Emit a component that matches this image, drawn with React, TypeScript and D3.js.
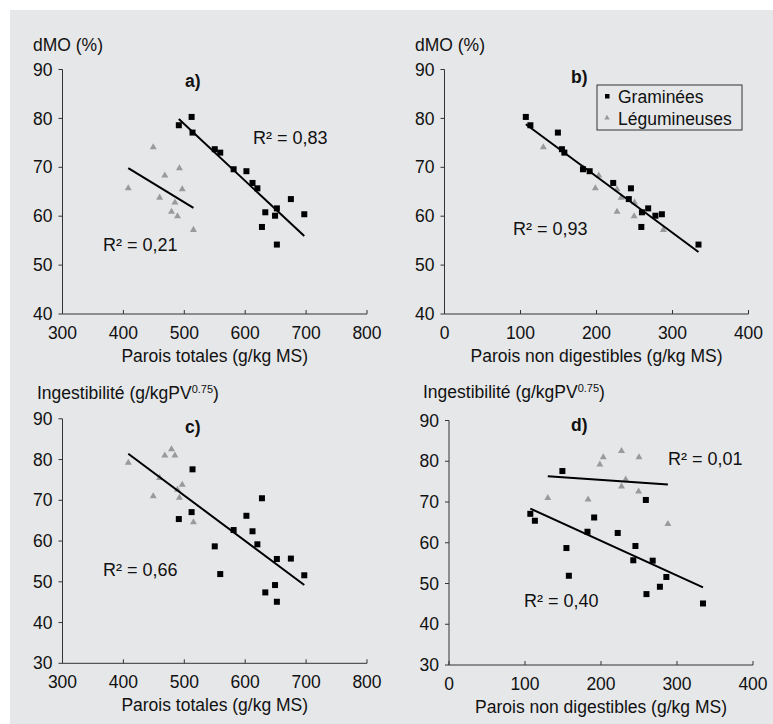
import React from "react";
import * as d3 from "d3";

// Graminées (16 fourrages)
const grassParoisTotales = [491, 512, 513.5, 550, 559, 581, 602, 612, 620, 633, 652, 649, 627.5, 652, 675, 697];
const grassParoisNonDig = [113, 107, 149.2, 154.5, 157.7, 182.2, 191, 222, 245.3, 259.8, 268, 277.5, 259, 334.2, 242.5, 286];
const grassDMO = [78.6, 80.3, 77.1, 73.7, 73.0, 69.6, 69.2, 66.8, 65.7, 60.8, 61.6, 60.1, 57.8, 54.2, 63.5, 60.4];
const grassIngest = [65.4, 67.1, 77.6, 58.7, 51.9, 62.7, 66.2, 62.4, 59.2, 47.4, 55.6, 49.2, 70.5, 45.1, 55.7, 51.6];

// Légumineuses (10 fourrages)
const legParoisTotales = [449, 408, 492, 468, 496.6, 459.5, 484.6, 479, 488.8, 515];
const legParoisNonDig = [130, 198.5, 183, 203, 227, 232.5, 250, 227, 249.5, 288];
const legDMO = [74.1, 65.7, 69.8, 68.3, 65.5, 63.8, 62.8, 60.9, 60.0, 57.2];
const legIngest = [71.0, 79.2, 70.6, 81.0, 73.8, 75.5, 81.0, 82.5, 72.6, 64.6];

const xTicksTot = [300, 400, 500, 600, 700, 800];
const xTicksND = [0, 100, 200, 300, 400];
const yTicksDMO = [40, 50, 60, 70, 80, 90];
const yTicksIng = [30, 40, 50, 60, 70, 80, 90];

const legendLabels = ["Graminées", "Légumineuses"];

type Pt = [number, number];
const zip = (xs: number[], ys: number[]): Pt[] => xs.map((x, i) => [x, ys[i]]);

// droite des moindres carrés, tracée entre min et max de x
function fit(pts: Pt[]): Pt[] {
  const mx = d3.mean(pts, (p) => p[0]) ?? 0;
  const my = d3.mean(pts, (p) => p[1]) ?? 0;
  const sxy = d3.sum(pts, (p) => (p[0] - mx) * (p[1] - my));
  const sxx = d3.sum(pts, (p) => (p[0] - mx) ** 2);
  const b = sxy / sxx;
  const a = my - b * mx;
  const [x0, x1] = d3.extent(pts, (p) => p[0]) as [number, number];
  return [
    [x0, a + b * x0],
    [x1, a + b * x1],
  ];
}

const FONT = "'Liberation Sans', Arial, Helvetica, sans-serif";
const FS = 17.5;
const AXIS = "#333";
const GREY = "#9a9a9a";
const tri = d3.symbol().type(d3.symbolTriangle).size(21)() ?? "";
const triSmall = d3.symbol().type(d3.symbolTriangle).size(13)() ?? "";

interface PanelProps {
  xDomain: [number, number];
  xRange: [number, number];
  yDomain: [number, number];
  yRange: [number, number];
  xTicks: number[];
  yTicks: number[];
  grass: Pt[];
  leg: Pt[];
  fits: Pt[][];
  letter: string;
  letterPos: [number, number];
  yTitle: React.ReactNode;
  yTitlePos: [number, number];
  xTitle: string;
  r2: { text: string; x: number; y: number }[];
}

const Panel: React.FC<PanelProps> = (p) => {
  const x = d3.scaleLinear().domain(p.xDomain).range(p.xRange);
  const y = d3.scaleLinear().domain(p.yDomain).range(p.yRange);
  const line = d3
    .line<Pt>()
    .x((d) => x(d[0]))
    .y((d) => y(d[1]));
  const y0 = y(p.yDomain[0]);
  const x0 = x(p.xDomain[0]);

  return (
    <g fontFamily={FONT} fill="#111">
      {/* Axe Y */}
      <line x1={x0} x2={x0} y1={y(p.yDomain[1])} y2={y0} stroke={AXIS} />
      {p.yTicks.map((t) => (
        <g key={t}>
          <line x1={x0 - 4} x2={x0} y1={y(t)} y2={y(t)} stroke={AXIS} />
          <text x={x0 - 10} y={y(t)} dy="0.35em" textAnchor="end" fontSize={FS}>
            {t}
          </text>
        </g>
      ))}
      {/* Axe X */}
      <line x1={x0} x2={x(p.xDomain[1])} y1={y0} y2={y0} stroke={AXIS} />
      {p.xTicks.map((t) => (
        <g key={t}>
          <line x1={x(t)} x2={x(t)} y1={y0 - 4} y2={y0} stroke={AXIS} />
          <text x={x(t)} y={y0 + 25} textAnchor="middle" fontSize={FS}>
            {t}
          </text>
        </g>
      ))}
      <text x={(p.xRange[0] + p.xRange[1]) / 2} y={y0 + 48} textAnchor="middle" fontSize={FS}>
        {p.xTitle}
      </text>
      <text x={p.yTitlePos[0]} y={p.yTitlePos[1]} fontSize={FS}>
        {p.yTitle}
      </text>
      <text x={p.letterPos[0]} y={p.letterPos[1]} fontSize={FS} fontWeight="bold">
        {p.letter}
      </text>
      {/* Points */}
      {p.leg.map((d, i) => (
        <path key={"l" + i} d={tri} transform={`translate(${x(d[0])},${y(d[1])})`} fill={GREY} />
      ))}
      {p.grass.map((d, i) => (
        <rect key={"g" + i} x={x(d[0]) - 3} y={y(d[1]) - 3} width={6} height={6} fill="#000" />
      ))}
      {/* Droites */}
      {p.fits.map((f, i) => (
        <path key={"f" + i} d={line(f) ?? ""} stroke="#000" strokeWidth={2} fill="none" />
      ))}
      {p.r2.map((r, i) => (
        <text key={"r" + i} x={r.x} y={r.y} fontSize={18}>
          {r.text}
        </text>
      ))}
    </g>
  );
};

const ingTitle = (
  <>
    <tspan>Ingestibilité (g/kgPV</tspan>
    <tspan fontSize={11} dy={-6}>
      0.75
    </tspan>
    <tspan dy={6}>)</tspan>
  </>
);

export default function App() {
  const aGrass = zip(grassParoisTotales, grassDMO);
  const aLeg = zip(legParoisTotales, legDMO);
  const bGrass = zip(grassParoisNonDig, grassDMO);
  const bLeg = zip(legParoisNonDig, legDMO);
  const cGrass = zip(grassParoisTotales, grassIngest);
  const cLeg = zip(legParoisTotales, legIngest);
  const dGrass = zip(grassParoisNonDig, grassIngest);
  const dLeg = zip(legParoisNonDig, legIngest);

  return (
    <svg width={773} height={724} style={{ position: "absolute", left: 0, top: 0 }}>
      <rect width={773} height={724} fill="#fff" />
      <rect x={10} y={10} width={763} height={714} fill="#e6e7e9" />

      <Panel
        xDomain={[300, 800]}
        xRange={[62.5, 367]}
        yDomain={[40, 90]}
        yRange={[314, 69.5]}
        xTicks={xTicksTot}
        yTicks={yTicksDMO}
        grass={aGrass}
        leg={aLeg}
        fits={[fit(aGrass), fit(aLeg)]}
        letter="a)"
        letterPos={[185, 87]}
        yTitle="dMO (%)"
        yTitlePos={[33, 51]}
        xTitle="Parois totales (g/kg MS)"
        r2={[
          { text: "R² = 0,83", x: 253, y: 144 },
          { text: "R² = 0,21", x: 103, y: 251 },
        ]}
      />
      <Panel
        xDomain={[0, 400]}
        xRange={[444.5, 748.5]}
        yDomain={[40, 90]}
        yRange={[314, 69.5]}
        xTicks={xTicksND}
        yTicks={yTicksDMO}
        grass={bGrass}
        leg={bLeg}
        fits={[fit([...bGrass, ...bLeg])]}
        letter="b)"
        letterPos={[571, 83]}
        yTitle="dMO (%)"
        yTitlePos={[415, 51]}
        xTitle="Parois non digestibles (g/kg MS)"
        r2={[{ text: "R² = 0,93", x: 513, y: 235 }]}
      />
      <Panel
        xDomain={[300, 800]}
        xRange={[62.5, 367]}
        yDomain={[30, 90]}
        yRange={[663.3, 418.8]}
        xTicks={xTicksTot}
        yTicks={yTicksIng}
        grass={cGrass}
        leg={cLeg}
        fits={[fit([...cGrass, ...cLeg])]}
        letter="c)"
        letterPos={[185, 433]}
        yTitle={ingTitle}
        yTitlePos={[37, 399]}
        xTitle="Parois totales (g/kg MS)"
        r2={[{ text: "R² = 0,66", x: 103, y: 576 }]}
      />
      <Panel
        xDomain={[0, 400]}
        xRange={[449, 753]}
        yDomain={[30, 90]}
        yRange={[665, 420.5]}
        xTicks={xTicksND}
        yTicks={yTicksIng}
        grass={dGrass}
        leg={dLeg}
        fits={[fit(dGrass), fit(dLeg)]}
        letter="d)"
        letterPos={[571, 431]}
        yTitle={ingTitle}
        yTitlePos={[423, 398]}
        xTitle="Parois non digestibles (g/kg MS)"
        r2={[
          { text: "R² = 0,40", x: 524, y: 607 },
          { text: "R² = 0,01", x: 668, y: 465 },
        ]}
      />

      {/* Légende */}
      <g fontFamily={FONT}>
        <rect x={597} y={85} width={145} height={45} fill="none" stroke={AXIS} />
        <rect x={605} y={94} width={4.5} height={4.5} fill="#000" />
        <path d={triSmall} transform="translate(607,118)" fill={GREY} />
        {legendLabels.map((l, i) => (
          <text key={l} x={618} y={103 + i * 22} fontSize={FS} fill="#111">
            {l}
          </text>
        ))}
      </g>
    </svg>
  );
}
